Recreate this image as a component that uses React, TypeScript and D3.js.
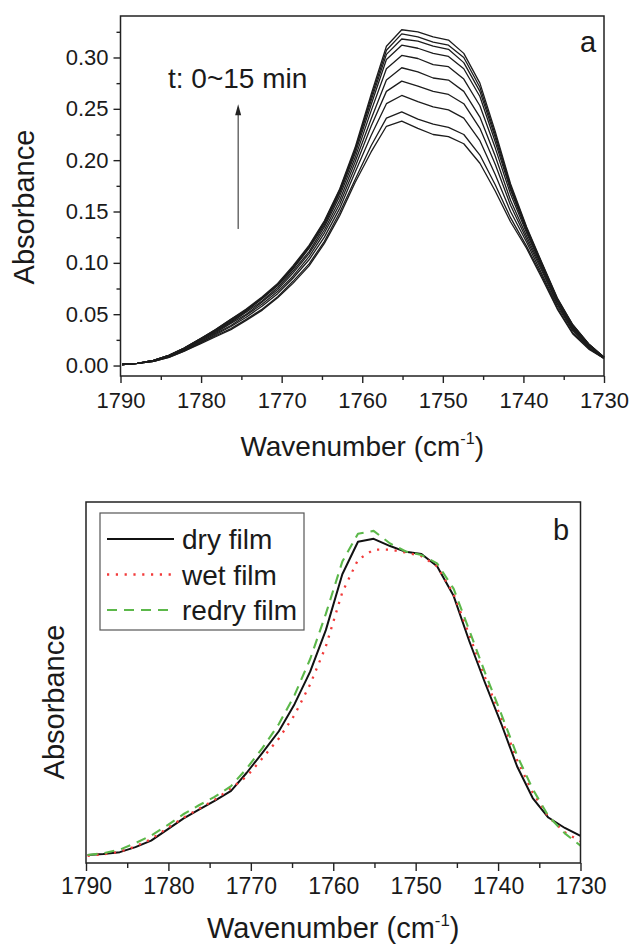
import * as d3 from "d3";
import React, { useEffect, useRef } from "react";

// shared wavenumber grid (cm-1)
const wavenumbers = [
  1789.8, 1787.9, 1785.9, 1784.0, 1782.1, 1780.1, 1778.2, 1776.3, 1774.4, 1772.4,
  1770.5, 1768.6, 1766.6, 1764.7, 1762.8, 1760.9, 1758.9, 1757.0, 1755.1, 1753.1,
  1751.2, 1749.3, 1747.4, 1745.4, 1743.5, 1741.6, 1739.6, 1737.7, 1735.8, 1733.9,
  1731.9, 1730.0,
];

// panel a: spectra recorded over t = 0 ~ 15 min (lowest first)
const scan01 = [.001,.002,.004,.008,.014,.021,.028,.035,.044,.054,.066,.080,.097,.119,.146,.178,.208,.233,.238,.231,.225,.223,.216,.197,.170,.140,.114,.085,.055,.031,.016,.007];
const scan02 = [.001,.002,.004,.008,.014,.022,.029,.036,.045,.055,.067,.082,.099,.121,.149,.181,.214,.241,.247,.240,.235,.232,.225,.205,.176,.144,.116,.087,.056,.032,.017,.007];
const scan03 = [.001,.002,.004,.009,.015,.022,.030,.038,.047,.058,.070,.085,.103,.125,.153,.188,.224,.255,.263,.257,.252,.249,.241,.219,.186,.150,.120,.089,.058,.034,.017,.007];
const scan04 = [.001,.002,.004,.009,.015,.023,.031,.039,.049,.060,.072,.087,.106,.129,.157,.193,.233,.267,.277,.272,.267,.264,.255,.231,.196,.156,.123,.092,.060,.035,.018,.007];
const scan05 = [.001,.002,.005,.009,.016,.024,.032,.041,.050,.062,.074,.090,.109,.132,.161,.198,.240,.278,.290,.286,.280,.278,.267,.242,.204,.161,.126,.094,.061,.036,.019,.008];
const scan06 = [.001,.002,.005,.009,.016,.025,.033,.042,.052,.063,.076,.092,.111,.135,.165,.202,.248,.289,.302,.299,.293,.291,.279,.253,.212,.167,.129,.096,.063,.037,.020,.008];
const scan07 = [.001,.002,.005,.010,.016,.025,.034,.043,.053,.065,.078,.094,.114,.137,.168,.206,.254,.298,.312,.309,.304,.301,.289,.262,.218,.171,.131,.097,.064,.038,.020,.008];
const scan08 = [.001,.002,.005,.010,.017,.026,.034,.044,.054,.066,.079,.095,.115,.139,.169,.209,.258,.303,.318,.316,.311,.308,.295,.267,.222,.173,.133,.099,.065,.039,.021,.008];
const scan09 = [.001,.002,.005,.010,.017,.026,.035,.045,.054,.066,.079,.096,.116,.140,.171,.210,.261,.307,.323,.320,.315,.312,.300,.271,.225,.175,.134,.099,.065,.040,.021,.008];
const scan10 = [.001,.002,.005,.010,.017,.026,.035,.045,.055,.067,.080,.097,.117,.141,.172,.212,.264,.311,.327,.325,.320,.317,.304,.275,.228,.177,.135,.100,.066,.040,.021,.008];
const scans = [scan01, scan02, scan03, scan04, scan05, scan06, scan07, scan08, scan09, scan10];

// panel b: arbitrary absorbance units (no y scale shown)
const dryFilm = [.022,.025,.030,.044,.062,.093,.123,.148,.172,.200,.250,.305,.365,.440,.530,.645,.800,.890,.898,.878,.862,.856,.822,.740,.615,.500,.385,.268,.180,.126,.097,.075];
const wetFilm = [.020,.024,.031,.046,.066,.097,.125,.150,.175,.207,.240,.290,.345,.410,.495,.600,.750,.840,.868,.868,.860,.850,.822,.745,.632,.515,.400,.285,.195,.128,.085,.060];
const redryFilm = [.022,.027,.037,.055,.076,.105,.135,.160,.183,.213,.262,.318,.385,.465,.565,.690,.835,.912,.920,.885,.863,.853,.830,.760,.645,.528,.412,.298,.205,.130,.082,.048];
const filmNames = ["dry film", "wet film", "redry film"];

const xTicks = [1790, 1780, 1770, 1760, 1750, 1740, 1730];
const xMinorTicks = [1785, 1775, 1765, 1755, 1745, 1735];
const yTicksA = [0, 0.05, 0.1, 0.15, 0.2, 0.25, 0.3];
const yMinorTicksA = [0.025, 0.075, 0.125, 0.175, 0.225, 0.275, 0.325];

const FONT = "'Liberation Sans', Arial, Helvetica, sans-serif";
const filmStyle = {
  "dry film": { stroke: "#111", width: 2, dash: null },
  "wet film": { stroke: "#f23a3a", width: 2.3, dash: "2.2 6.6" },
  "redry film": { stroke: "#5cb84a", width: 2.1, dash: "10 7" },
};

function styleAxis(g, size) {
  g.select(".domain").remove();
  g.attr("font-family", FONT).attr("font-size", size);
  g.selectAll("line").attr("stroke", "#222").attr("stroke-width", 1.4);
  g.selectAll("text").attr("fill", "#1a1a1a");
}

function xTitle(svg, x, y, size) {
  const t = svg
    .append("text")
    .attr("x", x)
    .attr("y", y)
    .attr("text-anchor", "middle")
    .attr("font-size", size)
    .attr("fill", "#1a1a1a");
  t.append("tspan").text("Wavenumber (cm");
  t.append("tspan").attr("dy", -size * 0.42).attr("font-size", size * 0.58).text("-1");
  t.append("tspan").attr("dy", size * 0.42).text(")");
}

export default function App() {
  const svgRef = useRef(null);
  const width = 630;
  const height = 947;

  useEffect(() => {
    const svg = d3.select(svgRef.current);
    svg.selectAll("*").remove();
    svg.attr("font-family", FONT);

    // ---------- panel a ----------
    const a = { left: 120.5, right: 604, top: 16, bottom: 376 };
    const xA = d3.scaleLinear().domain([1790, 1730]).range([a.left, a.right]);
    const yA = d3.scaleLinear().domain([-0.0102, 0.3404]).range([a.bottom, a.top]);

    const lineA = d3
      .line()
      .x((d, i) => xA(wavenumbers[i]))
      .y((d) => yA(d));

    svg
      .append("g")
      .selectAll("path")
      .data(scans)
      .join("path")
      .attr("d", (d) => lineA(d))
      .attr("fill", "none")
      .attr("stroke", "#1c1c1c")
      .attr("stroke-width", 1.3)
      .attr("stroke-linejoin", "round");

    const axA = svg
      .append("g")
      .attr("transform", `translate(0,${a.bottom})`)
      .call(d3.axisBottom(xA).tickValues(xTicks).tickSize(7).tickPadding(9).tickFormat(d3.format("d")));
    styleAxis(axA, 22);
    const axAm = svg
      .append("g")
      .attr("transform", `translate(0,${a.bottom})`)
      .call(d3.axisBottom(xA).tickValues(xMinorTicks).tickSize(4).tickFormat(() => ""));
    styleAxis(axAm, 22);

    const ayA = svg
      .append("g")
      .attr("transform", `translate(${a.left},0)`)
      .call(d3.axisLeft(yA).tickValues(yTicksA).tickSize(7).tickPadding(5).tickFormat(d3.format(".2f")));
    styleAxis(ayA, 22);
    const ayAm = svg
      .append("g")
      .attr("transform", `translate(${a.left},0)`)
      .call(d3.axisLeft(yA).tickValues(yMinorTicksA).tickSize(4).tickFormat(() => ""));
    styleAxis(ayAm, 22);

    svg
      .append("rect")
      .attr("x", a.left)
      .attr("y", a.top)
      .attr("width", a.right - a.left)
      .attr("height", a.bottom - a.top)
      .attr("fill", "none")
      .attr("stroke", "#222")
      .attr("stroke-width", 1.5);

    svg
      .append("text")
      .attr("transform", "translate(34,207) rotate(-90)")
      .attr("text-anchor", "middle")
      .attr("font-size", 29)
      .attr("fill", "#1a1a1a")
      .text("Absorbance");
    xTitle(svg, (a.left + a.right) / 2, 456, 28);

    svg.append("text").attr("x", 580).attr("y", 52).attr("font-size", 29).attr("fill", "#1a1a1a").text("a");

    // time annotation + arrow
    svg.append("text").attr("x", 168).attr("y", 88).attr("font-size", 28).attr("fill", "#1a1a1a").text("t: 0~15 min");
    const ax = xA(1775.4);
    svg
      .append("line")
      .attr("x1", ax)
      .attr("x2", ax)
      .attr("y1", yA(0.133))
      .attr("y2", yA(0.245))
      .attr("stroke", "#222")
      .attr("stroke-width", 1);
    const tip = yA(0.2545);
    svg
      .append("path")
      .attr("d", `M${ax},${tip}L${ax - 3},${tip + 11}L${ax + 3},${tip + 11}Z`)
      .attr("fill", "#222");

    // ---------- panel b ----------
    const b = { left: 86, right: 580.5, top: 502, bottom: 863 };
    const xB = d3.scaleLinear().domain([1790, 1730]).range([b.left, b.right]);
    const yB = d3.scaleLinear().domain([0, 1]).range([b.bottom, b.top]);
    const lineB = d3
      .line()
      .x((d, i) => xB(wavenumbers[i]))
      .y((d) => yB(d));

    const films = [dryFilm, wetFilm, redryFilm];
    films.forEach((vals, k) => {
      const st = filmStyle[filmNames[k]];
      svg
        .append("path")
        .attr("d", lineB(vals))
        .attr("fill", "none")
        .attr("stroke", st.stroke)
        .attr("stroke-width", st.width)
        .attr("stroke-dasharray", st.dash)
        .attr("stroke-linejoin", "round");
    });

    const axB = svg
      .append("g")
      .attr("transform", `translate(0,${b.bottom})`)
      .call(d3.axisBottom(xB).tickValues(xTicks).tickSize(8).tickPadding(7).tickFormat(d3.format("d")));
    styleAxis(axB, 23);
    const axBm = svg
      .append("g")
      .attr("transform", `translate(0,${b.bottom})`)
      .call(d3.axisBottom(xB).tickValues(xMinorTicks).tickSize(5).tickFormat(() => ""));
    styleAxis(axBm, 23);

    svg
      .append("rect")
      .attr("x", b.left)
      .attr("y", b.top)
      .attr("width", b.right - b.left)
      .attr("height", b.bottom - b.top)
      .attr("fill", "none")
      .attr("stroke", "#222")
      .attr("stroke-width", 1.5);

    svg
      .append("text")
      .attr("transform", "translate(64,702) rotate(-90)")
      .attr("text-anchor", "middle")
      .attr("font-size", 29)
      .attr("fill", "#1a1a1a")
      .text("Absorbance");
    xTitle(svg, (b.left + b.right) / 2, 938, 29);

    svg.append("text").attr("x", 553).attr("y", 540).attr("font-size", 29).attr("fill", "#1a1a1a").text("b");

    // legend
    const lg = svg.append("g");
    lg.append("rect")
      .attr("x", 100)
      .attr("y", 513)
      .attr("width", 204)
      .attr("height", 117)
      .attr("fill", "#fff")
      .attr("stroke", "#555")
      .attr("stroke-width", 1.2);
    filmNames.forEach((name, k) => {
      const st = filmStyle[name];
      const cy = 539 + k * 35.5;
      lg.append("line")
        .attr("x1", 107)
        .attr("x2", 174)
        .attr("y1", cy)
        .attr("y2", cy)
        .attr("stroke", st.stroke)
        .attr("stroke-width", st.width)
        .attr("stroke-dasharray", st.dash);
      lg.append("text")
        .attr("x", 182)
        .attr("y", cy + 10)
        .attr("font-size", 28)
        .attr("fill", "#1a1a1a")
        .text(name);
    });
  });

  return (
    <svg
      ref={svgRef}
      width={width}
      height={height}
      style={{ position: "absolute", left: 0, top: 0, background: "#fff" }}
    ></svg>
  );
}
